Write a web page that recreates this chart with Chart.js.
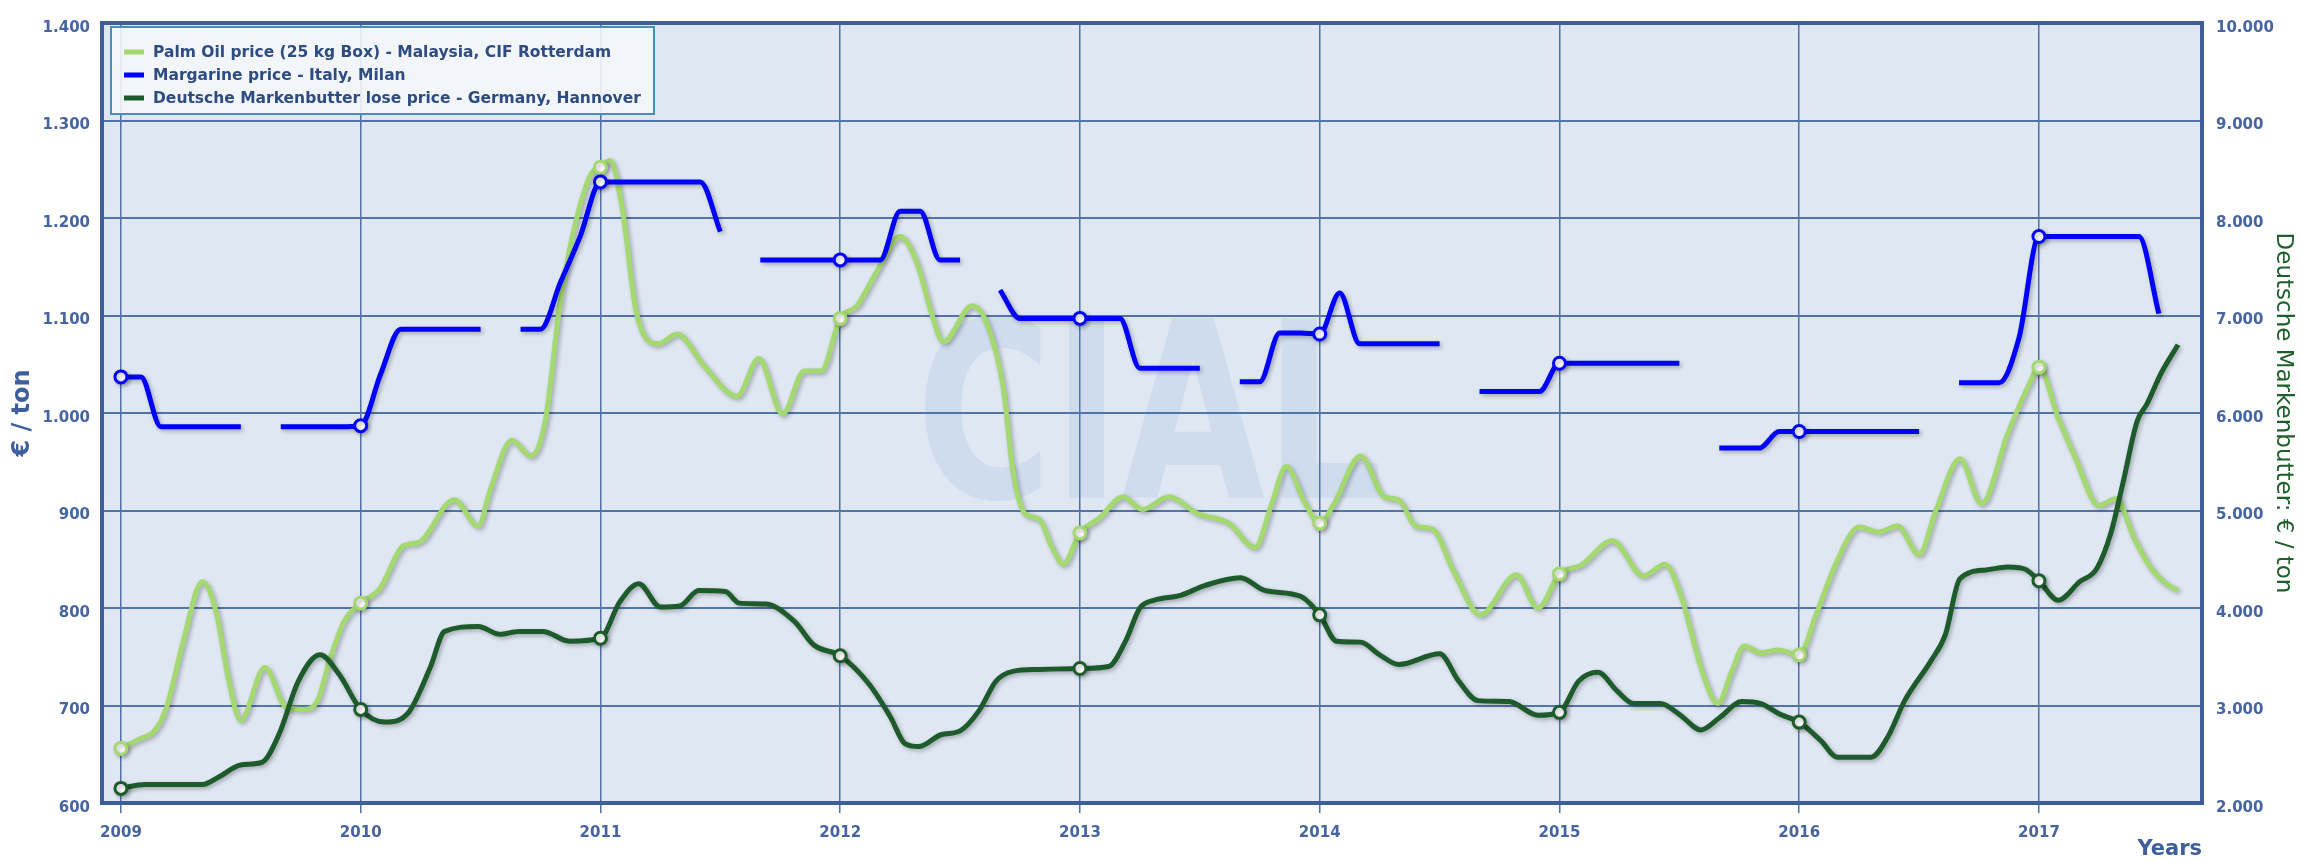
<!DOCTYPE html>
<html><head><meta charset="utf-8">
<script src="https://cdn.jsdelivr.net/npm/chart.js@4.4.1/dist/chart.umd.min.js"></script>
<style>html,body{margin:0;padding:0;background:#fff;overflow:hidden}#wrap{width:2301px;height:862px}</style>
</head><body><div id="wrap"><canvas id="c" width="2301" height="862"></canvas></div>
<script>
// ---- tick labels ----
const yearTicks = [2009, 2010, 2011, 2012, 2013, 2014, 2015, 2016, 2017];
const leftTicks = [600, 700, 800, 900, 1000, 1100, 1200, 1300, 1400];
const rightTicks = [2000, 3000, 4000, 5000, 6000, 7000, 8000, 9000, 10000];

// ---- series names ----
const palmLabel = 'Palm Oil price (25 kg Box) - Malaysia, CIF Rotterdam';
const margLabel = 'Margarine price - Italy, Milan';
const butterLabel = 'Deutsche Markenbutter lose price - Germany, Hannover';

// ---- Palm oil (left axis, €/ton), dates as decimal years ----
const palmX = [2009.00,2009.08,2009.14,2009.19,2009.26,2009.34,2009.40,2009.45,2009.50,2009.60,2009.69,2009.76,2009.82,2009.87,2009.93,
  2010.00,2010.08,2010.18,2010.24,2010.39,2010.49,2010.54,2010.63,2010.71,2010.77,2010.83,2010.88,2010.96,
  2011.00,2011.04,2011.09,2011.15,2011.24,2011.32,2011.43,2011.57,2011.66,2011.76,2011.85,2011.92,
  2012.00,2012.07,2012.15,2012.25,2012.32,2012.38,2012.43,2012.55,2012.61,2012.68,2012.72,2012.77,2012.83,2012.88,2012.93,
  2013.00,2013.08,2013.18,2013.26,2013.37,2013.49,2013.62,2013.73,2013.80,2013.86,2013.94,
  2014.00,2014.06,2014.17,2014.27,2014.33,2014.40,2014.47,2014.56,2014.67,2014.82,2014.91,
  2015.00,2015.09,2015.22,2015.35,2015.44,2015.51,2015.59,2015.66,2015.72,2015.77,2015.84,2015.91,
  2016.00,2016.07,2016.15,2016.25,2016.33,2016.41,2016.50,2016.57,2016.67,2016.76,2016.87,2016.96,
  2017.00,2017.08,2017.15,2017.25,2017.32,2017.40,2017.47,2017.53,2017.58];
const palmY = [656,666,674,698,766,827,793,725,685,739,698,696,705,746,786,
  805,820,864,867,911,884,921,972,956,992,1110,1178,1245,
  1252,1259,1211,1103,1071,1081,1049,1017,1056,999,1043,1043,
  1097,1110,1144,1181,1154,1103,1073,1110,1093,1026,941,897,891,864,845,
  877,892,914,901,914,897,887,862,907,945,907,
  887,907,956,914,911,884,881,837,793,834,800,
  835,844,869,833,845,810,739,702,736,761,754,757,
  752,793,844,883,878,884,855,900,953,907,979,1030,
  1047,995,955,905,912,870,840,825,818];

// ---- Deutsche Markenbutter (right axis, €/ton) ----
const butterX = [2009.00,2009.10,2009.34,2009.41,2009.50,2009.59,2009.66,2009.74,2009.83,2009.91,
  2010.00,2010.10,2010.20,2010.29,2010.35,2010.49,2010.58,2010.66,2010.76,2010.87,
  2011.00,2011.08,2011.16,2011.25,2011.33,2011.41,2011.52,2011.58,2011.69,2011.81,2011.89,
  2012.00,2012.12,2012.21,2012.27,2012.33,2012.42,2012.50,2012.58,2012.65,2012.72,2012.83,
  2013.00,2013.12,2013.19,2013.25,2013.31,2013.42,2013.52,2013.67,2013.77,2013.92,
  2014.00,2014.07,2014.17,2014.25,2014.33,2014.50,2014.58,2014.66,2014.79,2014.91,
  2015.00,2015.08,2015.16,2015.24,2015.31,2015.42,2015.50,2015.59,2015.67,2015.76,2015.84,2015.92,
  2016.00,2016.09,2016.16,2016.30,2016.37,2016.44,2016.55,2016.61,2016.67,2016.78,2016.87,2016.94,
  2017.00,2017.08,2017.17,2017.24,2017.30,2017.35,2017.41,2017.45,2017.51,2017.58];
const butterY = [2150,2190,2190,2270,2390,2420,2710,3250,3520,3320,
  2960,2830,2930,3390,3760,3810,3730,3760,3760,3660,
  3690,4060,4250,4010,4020,4180,4170,4050,4040,3860,3620,
  3510,3220,2880,2610,2580,2700,2740,2950,3250,3350,3370,
  3380,3400,3660,4000,4080,4130,4230,4310,4180,4120,
  3930,3660,3650,3520,3420,3530,3250,3050,3040,2900,
  2930,3250,3340,3150,3020,3020,2910,2750,2880,3040,3020,2910,
  2830,2640,2470,2470,2680,3050,3460,3730,4300,4390,4420,4400,
  4280,4080,4270,4400,4770,5280,5920,6090,6410,6700];

// ---- Margarine (left axis), monthly from Jan 2009; null = no quote ----
const margStartYear = 2009;
const margarine = [
  1037,1037,986,986,986,986,986,null,986,986,986,986,
  987,1040,1086,1086,1086,1086,1086,null,1086,1086,1134,1182,
  1237,1237,1237,1237,1237,1237,1186,null,1157,1157,1157,1157,
  1157,1157,1157,1207,1207,1157,1157,null,1126,1097,1097,1097,
  1097,1097,1097,1046,1046,1046,1046,null,1032,1032,1082,1082,
  1081,1123,1071,1071,1071,1071,1071,null,1022,1022,1022,1022,
  1051,1051,1051,1051,1051,1051,1051,null,964,964,964,981,
  981,981,981,981,981,981,981,null,1031,1031,1031,1077,
  1181,1181,1181,1181,1181,1181,1102];

const palmColor = '#a4d870';
const margColor = '#0000ff';
const butterColor = '#1e5b2c';
const axisBlue = '#46649f';
const FAM = "'DejaVu Sans', Verdana, sans-serif";

const fmt = v => String(v).replace(/\B(?=(\d{3})+(?!\d))/g, '.');
const yearPoint = c => {
  const r = c.raw;
  if (!r || r.y == null) return 0;
  return Math.abs(r.x - Math.round(r.x)) < 1e-6 ? 6 : 0;
};

const palmData = palmX.map((x, i) => ({x, y: palmY[i]}));
const butterData = butterX.map((x, i) => ({x, y: butterY[i]}));
const margData = margarine.map((v, i) => ({x: margStartYear + i / 12, y: v}));

const bgPlugin = {
  id: 'bg',
  beforeDraw(chart) {
    const {ctx, chartArea: a} = chart;
    ctx.save();
    ctx.fillStyle = '#dfe7f2';
    ctx.fillRect(a.left, a.top, a.right - a.left, a.bottom - a.top);
    // watermark
    ctx.fillStyle = '#cfdcee';
    ctx.font = 'bold 247px ' + FAM;
    ctx.textBaseline = 'alphabetic';
    const w = ctx.measureText('CIAL').width;
    ctx.translate(916, 498);
    ctx.scale(467 / w, 1);
    ctx.fillText('CIAL', 0, 0);
    ctx.restore();
  }
};

const shadowPlugin = {
  id: 'shadow',
  beforeDatasetsDraw(chart) {
    const ctx = chart.ctx;
    ctx.save();
    ctx.shadowColor = 'rgba(0,0,0,0.28)';
    ctx.shadowBlur = 4;
    ctx.shadowOffsetX = 2;
    ctx.shadowOffsetY = 2;
  },
  afterDatasetsDraw(chart) { chart.ctx.restore(); }
};

const framePlugin = {
  id: 'frame',
  afterDraw(chart) {
    const {ctx, chartArea: a} = chart;
    ctx.save();
    ctx.strokeStyle = '#3d5d9b';
    ctx.lineWidth = 4;
    ctx.strokeRect(a.left, a.top, a.right - a.left, a.bottom - a.top);
    // legend
    const bx = 111, by = 27, bw = 543, bh = 87;
    ctx.fillStyle = 'rgba(244,247,251,0.9)';
    ctx.fillRect(bx, by, bw, bh);
    ctx.strokeStyle = '#4590b4';
    ctx.lineWidth = 2;
    ctx.strokeRect(bx, by, bw, bh);
    const items = chart.data.datasets.slice().sort((p, q) => p.legendIndex - q.legendIndex);
    ctx.font = 'bold 15.5px ' + FAM;
    ctx.textBaseline = 'middle';
    ctx.textAlign = 'left';
    items.forEach((ds, i) => {
      const y = 52 + i * 23;
      ctx.fillStyle = ds.borderColor;
      ctx.fillRect(124, y - 2.5, 20, 5);
      ctx.fillStyle = '#2e4b82';
      ctx.fillText(ds.label, 153, y + 1);
    });
    ctx.restore();
  }
};

new Chart(document.getElementById('c'), {
  type: 'line',
  data: {
    datasets: [
      {label: butterLabel, legendIndex: 2, data: butterData, yAxisID: 'y1', borderColor: butterColor, order: 1},
      {label: margLabel, legendIndex: 1, data: margData, yAxisID: 'y', borderColor: margColor, order: 2},
      {label: palmLabel, legendIndex: 0, data: palmData, yAxisID: 'y', borderColor: palmColor, order: 3}
    ].map(d => Object.assign({
      borderWidth: 5,
      cubicInterpolationMode: 'monotone',
      spanGaps: false,
      pointRadius: yearPoint,
      pointHoverRadius: yearPoint,
      pointBackgroundColor: '#ffffff',
      pointBorderColor: d.borderColor,
      pointBorderWidth: 3,
      fill: false
    }, d))
  },
  options: {
    responsive: false,
    animation: false,
    devicePixelRatio: 1,
    layout: {padding: {top: 14, left: 0, right: 0, bottom: 0}},
    plugins: {legend: {display: false}, tooltip: {enabled: false}},
    scales: {
      x: {
        type: 'linear', position: 'bottom', min: 2008.921, max: 2017.68,
        afterBuildTicks: s => { s.ticks = yearTicks.map(v => ({value: v})); },
        afterFit: s => { s.height = 59; },
        grid: {color: '#4f71a6', lineWidth: 1.5, drawTicks: true, tickLength: 10, tickColor: '#4f71a6', tickWidth: 1.5},
        border: {display: false},
        ticks: {font: {family: FAM, size: 15, weight: 'bold'}, color: axisBlue, padding: 11, maxRotation: 0, autoSkip: false, callback: v => String(v)},
        title: {display: true, text: 'Years', align: 'end', color: '#3f5e99', font: {family: FAM, size: 21, weight: 'bold'}, padding: {top: 0, bottom: 0}}
      },
      y: {
        type: 'linear', position: 'left', min: 600, max: 1400,
        afterBuildTicks: s => { s.ticks = leftTicks.map(v => ({value: v})); },
        afterFit: s => { s.width = 102; },
        grid: {color: '#5274a8', lineWidth: 2, drawTicks: false},
        border: {display: false},
        ticks: {font: {family: FAM, size: 15, weight: 'bold'}, color: axisBlue, padding: 12, labelOffset: 5, callback: v => fmt(v)},
        title: {display: true, text: '€ / ton', color: '#3f5e9c', font: {family: FAM, size: 24, weight: 'bold'}, padding: {top: 8, bottom: 0}}
      },
      y1: {
        type: 'linear', position: 'right', min: 2000, max: 10000,
        afterBuildTicks: s => { s.ticks = rightTicks.map(v => ({value: v})); },
        afterFit: s => { s.width = 99; },
        grid: {drawOnChartArea: false, drawTicks: false},
        border: {display: false},
        ticks: {font: {family: FAM, size: 15, weight: 'bold'}, color: axisBlue, padding: 14, labelOffset: 5, callback: v => fmt(v)},
        title: {display: true, text: 'Deutsche Markenbutter: € / ton', color: '#1d5e2b', font: {family: FAM, size: 23}, padding: {top: 4, bottom: 0}}
      }
    }
  },
  plugins: [bgPlugin, shadowPlugin, framePlugin]
});
</script>
</body></html>
